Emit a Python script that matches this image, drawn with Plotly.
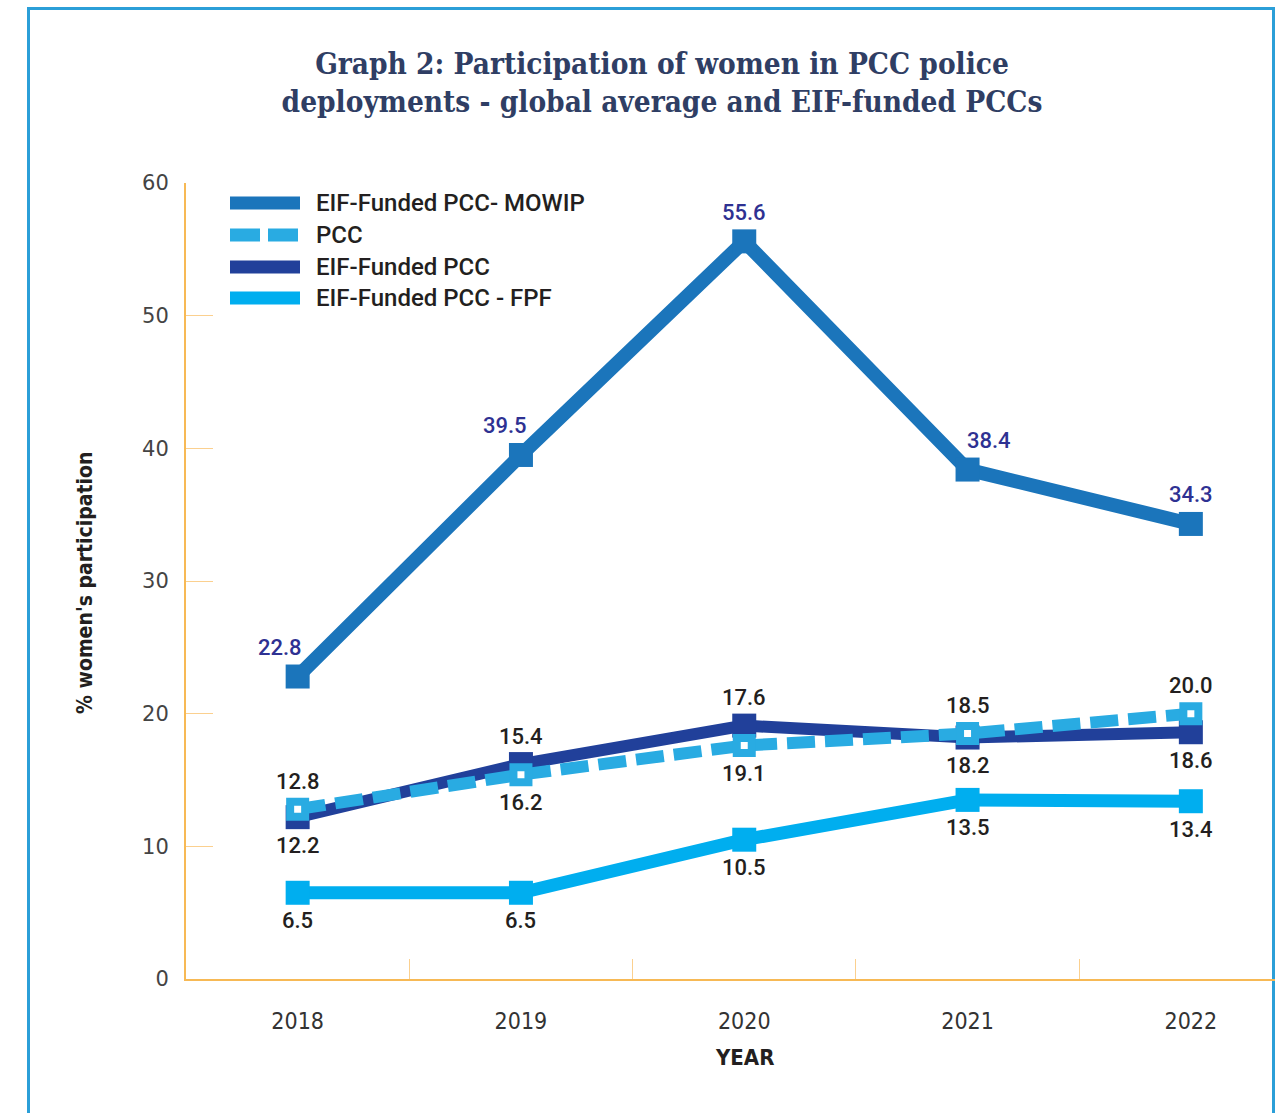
import plotly.graph_objects as go

# ---------------- data ----------------
years = ["2018", "2019", "2020", "2021", "2022"]
mowip = [22.8, 39.5, 55.6, 38.4, 34.3]      # EIF-Funded PCC- MOWIP
pcc = [12.8, 15.4, 17.6, 18.5, 20.0]        # PCC (global average)
eif = [12.2, 16.2, 19.1, 18.2, 18.6]        # EIF-Funded PCC
fpf = [6.5, 6.5, 10.5, 13.5, 13.4]          # EIF-Funded PCC - FPF
series_names = ["EIF-Funded PCC- MOWIP", "PCC", "EIF-Funded PCC", "EIF-Funded PCC - FPF"]
y_ticks = [0, 10, 20, 30, 40, 50, 60]

# ---------------- style ----------------
C_MOWIP = "#1b75bb"
C_PCC = "#29abe2"
C_EIF = "#21409a"
C_FPF = "#00aeef"
C_LBL_MOWIP = "#2e3192"
C_LBL = "#231f20"
AX = "#f7b955"
TICK = "#fbd08f"
W, H = 1281, 1113
ML, MR, MT, MB = 186, 6, 183, 134
PW, PH = W - ML - MR, H - MT - MB


def px_x(p):
    return (p - ML) / PW


def px_y(p):
    return (H - MB - p) / PH


LBL_FONT = dict(family="Roboto, Liberation Sans, sans-serif", size=22, color=C_LBL, weight=500)
COND = "DejaVu Sans Condensed, DejaVu Sans, sans-serif"

fig = go.Figure()

fig.add_trace(go.Scatter(x=years, y=mowip, name=series_names[0], mode="lines+markers",
                         line=dict(color=C_MOWIP, width=14),
                         marker=dict(symbol="square", size=24, color=C_MOWIP),
                         showlegend=False))
fig.add_trace(go.Scatter(x=years, y=eif, name=series_names[2], mode="lines+markers",
                         line=dict(color=C_EIF, width=12),
                         marker=dict(symbol="square", size=24, color=C_EIF),
                         showlegend=False))
fig.add_trace(go.Scatter(x=years, y=pcc, name=series_names[1], mode="lines+markers",
                         line=dict(color=C_PCC, width=12, dash="28px,10px"),
                         marker=dict(symbol="square", size=15, color="white",
                                     line=dict(color=C_PCC, width=8)),
                         showlegend=False))
fig.add_trace(go.Scatter(x=years, y=fpf, name=series_names[3], mode="lines+markers",
                         line=dict(color=C_FPF, width=13),
                         marker=dict(symbol="square", size=24, color=C_FPF),
                         showlegend=False))

annotations = []
# category axis: annotations use the category index
# MOWIP labels (above, nudged away from the line)
mowip_xshift = [-18, -16, 0, 21, 0]
for i, (v, xs) in enumerate(zip(mowip, mowip_xshift)):
    annotations.append(dict(x=i, y=v, text=f"{v:.1f}", showarrow=False, xshift=xs, yshift=29,
                            font=dict(LBL_FONT, color=C_LBL_MOWIP)))
# PCC labels above the pair, EIF-Funded PCC labels below the pair
for i, (a, b) in enumerate(zip(pcc, eif)):
    annotations.append(dict(x=i, y=max(a, b), text=f"{a:.1f}", showarrow=False, yshift=28,
                            font=LBL_FONT))
    annotations.append(dict(x=i, y=min(a, b), text=f"{b:.1f}", showarrow=False, yshift=-28,
                            font=LBL_FONT))
# FPF labels below
for i, v in enumerate(fpf):
    annotations.append(dict(x=i, y=v, text=f"{v:.1f}", showarrow=False, yshift=-28,
                            font=LBL_FONT))

# axis titles
annotations.append(dict(xref="paper", yref="paper", x=px_x(85), y=px_y(583),
                        xanchor="center", yanchor="middle",
                        text="% women's participation", textangle=-90, showarrow=False,
                        font=dict(family=COND, size=21, color=C_LBL, weight="bold")))
annotations.append(dict(x=years.index("2020"), xref="x", yref="paper", y=px_y(1057),
                        xanchor="center", yanchor="middle",
                        text="YEAR", showarrow=False,
                        font=dict(family=COND, size=22, color=C_LBL, weight="bold")))

# manual legend
shapes = []
leg_colors = [C_MOWIP, C_PCC, C_EIF, C_FPF]
leg_dash = ["solid", "30px,8px", "solid", "solid"]
leg_y = [203, 235, 267, 298]
for name, col, dsh, ly in zip(series_names, leg_colors, leg_dash, leg_y):
    shapes.append(dict(type="line", xref="paper", yref="paper",
                       x0=px_x(230), x1=px_x(300), y0=px_y(ly), y1=px_y(ly),
                       line=dict(color=col, width=13, dash=dsh)))
    annotations.append(dict(xref="paper", yref="paper", x=px_x(314), y=px_y(ly),
                            xanchor="left", yanchor="middle", text=name, showarrow=False,
                            font=dict(family="Roboto, Liberation Sans, sans-serif", size=24,
                                      color=C_LBL, weight=500)))

# outer frame
shapes.append(dict(type="rect", xref="paper", yref="paper",
                   x0=px_x(28.5), x1=px_x(1273.5), y0=px_y(1130), y1=px_y(8.5),
                   line=dict(color="#2b9fd8", width=3), fillcolor="rgba(0,0,0,0)",
                   layer="below"))

fig.update_layout(
    width=W, height=H,
    margin=dict(l=ML, r=MR, t=MT, b=MB),
    paper_bgcolor="white", plot_bgcolor="white",
    showlegend=False,
    title=dict(text="Graph 2: Participation of women in PCC police<br>deployments - global average and EIF-funded PCCs",
               x=662 / W, xanchor="center", xref="container",
               y=1 - 74 / H, yanchor="middle", yref="container",
               font=dict(family="DejaVu Serif Condensed, DejaVu Serif, serif", size=29.5,
                         color="#2f3e64", weight="bold")),
    xaxis=dict(type="category", categoryorder="array", categoryarray=years,
               range=[-0.5, -0.5 + PW / 223.3],
               showline=True, linecolor=AX, linewidth=2,
               ticks="inside", tickson="boundaries", ticklen=20, tickcolor=TICK, tickwidth=1,
               tickfont=dict(family=COND, size=23, color="#333333"),
               ticklabelstandoff=20, showgrid=False, zeroline=False),
    yaxis=dict(range=[0, 60], tickvals=y_ticks,
               showline=True, linecolor=AX, linewidth=2,
               ticks="inside", ticklen=27, tickcolor=TICK, tickwidth=1,
               tickfont=dict(family="DejaVu Sans, sans-serif", size=21, color="#444444"),
               ticklabelstandoff=11, showgrid=False, zeroline=False),
    annotations=annotations,
    shapes=shapes,
)

fig.write_html("out.html", config={"displayModeBar": False},
               post_script="document.body.style.margin='0';")
